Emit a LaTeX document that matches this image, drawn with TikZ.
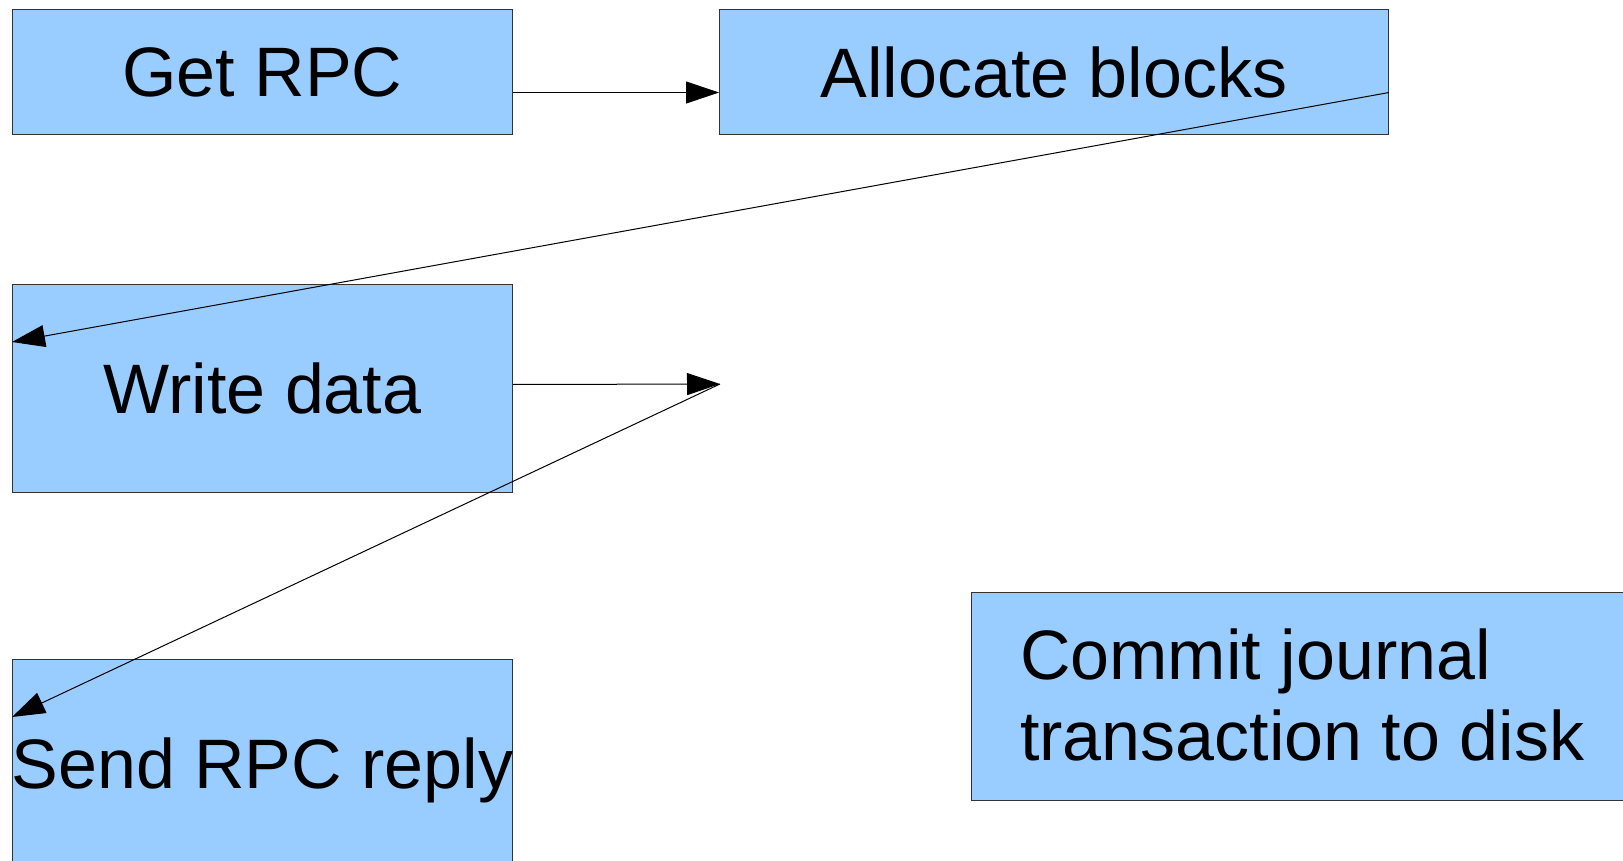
\documentclass[tikz,border=0pt]{standalone}
\usepackage{fontspec}
\setmainfont{Liberation Sans}
\usetikzlibrary{arrows.meta}
\definecolor{boxblue}{HTML}{99CCFF}
\definecolor{boxedge}{HTML}{333333}
\tikzset{
  procbox/.style={draw=boxedge, line width=1pt, fill=boxblue, inner sep=0pt,
    anchor=north west, font=\fontsize{70}{81}\selectfont},
  flow/.style={draw=black, line width=1pt, -{Triangle[length=33pt,width=22pt]}},
}
\begin{document}
\begin{tikzpicture}[x=1pt,y=-1pt]
\useasboundingbox (0,0) rectangle (1623,861);
\clip (0,0) rectangle (1623,861);
\fill[white] (0,0) rectangle (1623,861);
\node[procbox, minimum width=500pt, minimum height=125pt] (get) at (12,9) {Get RPC};
\node[procbox, minimum width=669pt, minimum height=125pt] (alloc) at (719,9) {Allocate blocks};
\node[procbox, minimum width=500pt, minimum height=208pt] (write) at (12,284) {Write data};
\node[procbox, minimum width=500pt, minimum height=221pt] (send) at (12,659) {\makebox[0pt]{Send RPC reply}};
\node[procbox, minimum width=760pt, minimum height=208pt] (commit) at (971,592) {};
\node[inner sep=0pt, anchor=west, align=left, font=\fontsize{70}{81}\selectfont] (committext) at (1020,695) {Commit journal\\transaction to disk};
\coordinate (mid) at (720,384);
\draw[flow] ([yshift=-20.5pt]get.east) -- ([yshift=-20.5pt]alloc.west);
\draw[flow] ([yshift=-20.5pt]alloc.east) -- ([yshift=-58pt]write.north west);
\draw[flow] ([yshift=4pt]write.east) -- (mid);
\draw[flow] (mid) -- ([yshift=-58pt]send.north west);
\end{tikzpicture}
\end{document}
